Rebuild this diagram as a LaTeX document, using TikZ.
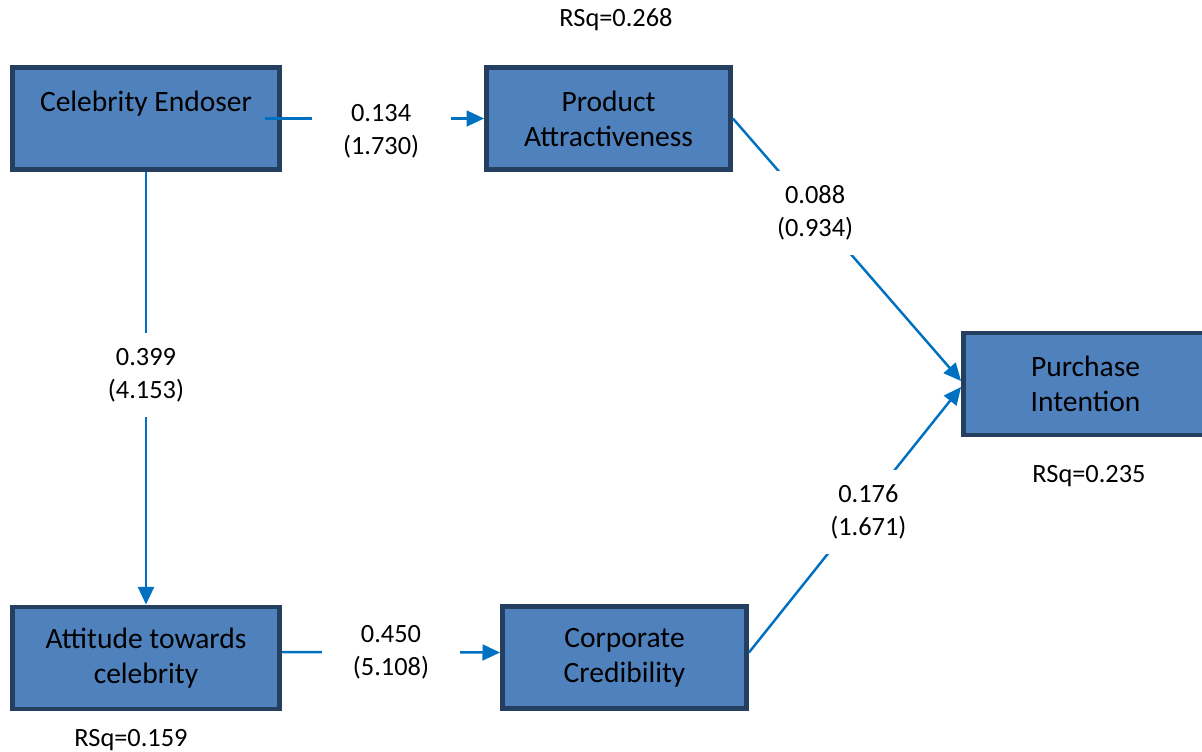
\documentclass[tikz,border=0pt]{standalone}
\usepackage{fontspec}
\setmainfont{Carlito}
\usetikzlibrary{arrows.meta}

\definecolor{boxfill}{HTML}{4F81BD}
\definecolor{boxedge}{HTML}{243F60}
\definecolor{linkblue}{HTML}{0070C0}

\tikzset{
  construct/.style={rectangle, draw=boxedge, line width=2.8pt, fill=boxfill,
    minimum width=4.88cm, minimum height=2.04cm, align=center,
    font=\fontsize{16.8}{20}\selectfont, text=black},
  link/.style={draw=linkblue, line width=1.4pt, -{Triangle[length=10pt,width=9pt]}},
  coef/.style={fill=white, minimum width=2.78cm, minimum height=1.68cm,
    align=center, inner sep=0pt, font=\fontsize{15}{18.8}\selectfont, text=black},
  rsq/.style={font=\fontsize{15}{18}\selectfont}
}

\begin{document}
\begin{tikzpicture}[x=0.02cm, y=-0.02cm]
\useasboundingbox (0,0) rectangle (1202,751);
\clip (0,0) rectangle (1202,751);

% constructs
\node[construct, minimum width=5.34cm] (ce) at (146,118.5) {Celebrity Endoser\\~};
\node[construct] (pa) at (608.5,118.5) {Product\\Attractiveness};
\node[construct] (pi) at (1085.5,384) {Purchase\\Intention};
\node[construct, minimum width=5.34cm] (atc) at (146,658) {Attitude towards\\celebrity};
\node[construct] (cc) at (624.5,657.5) {Corporate\\Credibility};

% r-squared
\node[rsq] (rsqpa) at (616,20) {RSq=0.268};
\node[rsq] (rsqpi) at (1089,476) {RSq=0.235};
\node[rsq] (rsqatc) at (131,740) {RSq=0.159};

% paths
\draw[link] ([xshift=-0.34cm]ce.east) -- node[coef, pos=0.53, yshift=-0.25cm] {0.134\\(1.730)} (pa.west);
\draw[link] (ce.south) -- node[coef, pos=0.47] {0.399\\(4.153)} (atc.north);
\draw[link] ([yshift=0.12cm]atc.east) -- node[coef] {0.450\\(5.108)} ([yshift=0.1cm]cc.west);
\draw[link] (pa.east) -- node[coef, pos=0.36] {0.088\\(0.934)} ([yshift=0.06cm]pi.west);
\draw[link] ([yshift=0.1cm]cc.east) -- node[coef, pos=0.53, xshift=0.14cm] {0.176\\(1.671)} ([yshift=-0.06cm]pi.west);
\end{tikzpicture}
\end{document}
